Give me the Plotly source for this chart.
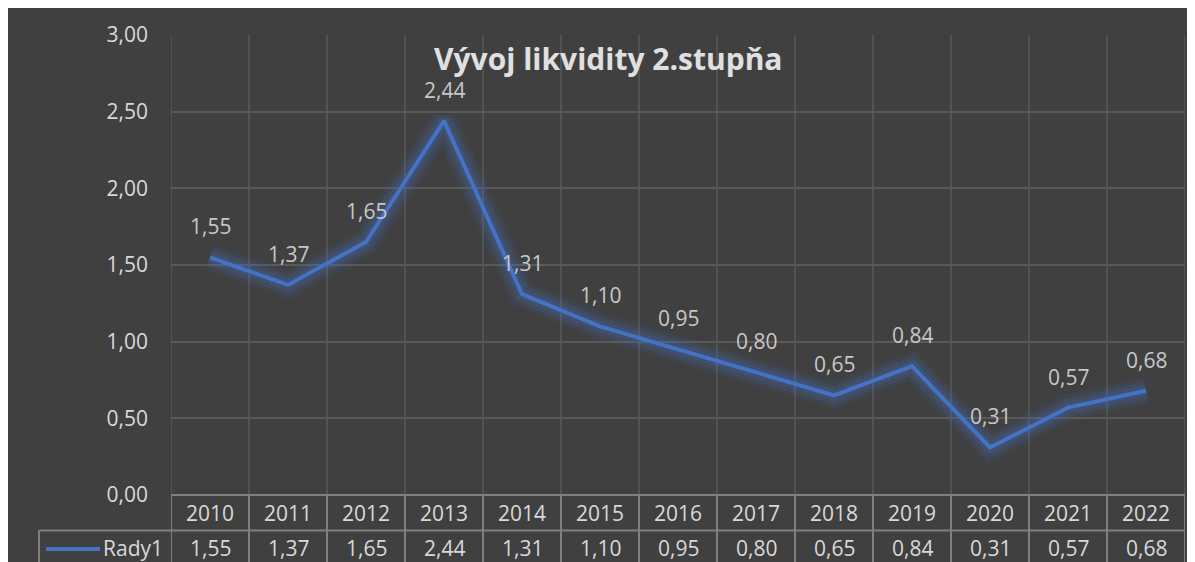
import plotly.graph_objects as go

# ---- data ----
years = ["2010", "2011", "2012", "2013", "2014", "2015", "2016",
         "2017", "2018", "2019", "2020", "2021", "2022"]
values = [1.55, 1.37, 1.65, 2.44, 1.31, 1.10, 0.95, 0.80, 0.65, 0.84, 0.31, 0.57, 0.68]
series_name = "Rady1"
title_text = "Vývoj likvidity 2.stupňa"
y_ticks = [0, 0.5, 1.0, 1.5, 2.0, 2.5, 3.0]

# ---- layout geometry (screen pixels; page body adds an 8px offset) ----
OFF = 8
W, H = 1195, 562
L, R, T, B = 171, 1185, 27, 495
BG = "#404040"
GRID = "#595959"
TABLE = "#808080"
BLUE = "#4472C4"
FONT = "Open Sans"

def px_x(p):
    return (p - L) / (R - L)

def px_y(p):
    return (B - p) / (B - T)

def fmt(v):
    return f"{v:.2f}".replace(".", ",")

xs = list(range(len(years)))

fig = go.Figure()

# glow layers
for w, a in [(26, 0.10), (18, 0.14), (11, 0.16)]:
    fig.add_trace(go.Scatter(x=xs, y=values, mode="lines",
                             line=dict(color=f"rgba(68,114,196,{a})", width=w),
                             hoverinfo="skip", showlegend=False))
fig.add_trace(go.Scatter(x=xs, y=values, mode="lines", name=series_name,
                         line=dict(color=BLUE, width=4), showlegend=False))

shapes = []
annotations = []

# vertical gridlines at category boundaries (plot area)
for i in range(len(years) + 1):
    shapes.append(dict(type="line", xref="x", yref="paper",
                       x0=i - 0.5, x1=i - 0.5, y0=0, y1=1,
                       line=dict(color=GRID, width=1.5), layer="below"))

# data table
row1_bot = px_y(531)
row2_bot = px_y(H + 30)
shapes.append(dict(type="line", xref="x", yref="paper", x0=-0.5, x1=len(years) - 0.5,
                   y0=0, y1=0, line=dict(color=TABLE, width=2)))
shapes.append(dict(type="line", xref="paper", yref="paper", x0=px_x(39), x1=1,
                   y0=row1_bot, y1=row1_bot, line=dict(color=TABLE, width=2)))
for i in range(len(years) + 1):
    shapes.append(dict(type="line", xref="x", yref="paper",
                       x0=i - 0.5, x1=i - 0.5, y0=0, y1=row2_bot,
                       line=dict(color=TABLE, width=2)))
shapes.append(dict(type="line", xref="paper", yref="paper",
                   x0=px_x(39), x1=px_x(39), y0=row1_bot, y1=row2_bot,
                   line=dict(color=TABLE, width=2)))
# legend key
shapes.append(dict(type="line", xref="paper", yref="paper",
                   x0=px_x(46), x1=px_x(100), y0=px_y(550), y1=px_y(550),
                   line=dict(color=BLUE, width=4)))

TXT = dict(family=FONT, size=21, color="#d9d9d9")
annotations.append(dict(xref="paper", yref="paper", x=px_x(165), y=px_y(549),
                        text=series_name, showarrow=False, xanchor="right",
                        yanchor="middle", font=TXT))

for i, (yr, v) in enumerate(zip(years, values)):
    annotations.append(dict(x=i, xref="x", yref="paper", y=px_y(513), text=yr,
                            showarrow=False, yanchor="middle", font=TXT))
    annotations.append(dict(x=i, xref="x", yref="paper", y=px_y(549), text=fmt(v),
                            showarrow=False, yanchor="middle", font=TXT))
    # data labels
    annotations.append(dict(x=i, y=v, xref="x", yref="y", text=fmt(v),
                            showarrow=False, yshift=31, yanchor="middle",
                            font=dict(family=FONT, size=21, color="#c8c8c8")))

# title
annotations.append(dict(xref="paper", yref="paper", x=px_x(608), y=px_y(51),
                        text=f"<b>{title_text}</b>", showarrow=False,
                        xanchor="center", yanchor="middle",
                        font=dict(family=FONT, size=30, color="#e0e0e0")))

fig.update_layout(
    width=W, height=H,
    margin=dict(l=L - OFF, r=W - (R - OFF), t=T - OFF, b=H - (B - OFF), pad=0),
    paper_bgcolor=BG, plot_bgcolor=BG,
    separators=", ",
    showlegend=False,
    shapes=shapes, annotations=annotations,
    xaxis=dict(range=[-0.5, len(years) - 0.5], showgrid=False, zeroline=False,
               showticklabels=False, showline=False, fixedrange=True),
    yaxis=dict(range=[0, 3], tickvals=y_ticks, tickformat=".2f",
               showgrid=True, gridcolor=GRID, gridwidth=1.5, zeroline=False,
               showline=False, ticks="", ticklabelstandoff=22,
               tickfont=dict(family=FONT, size=21, color="#d9d9d9")),
)

fig.write_html("out.html")
